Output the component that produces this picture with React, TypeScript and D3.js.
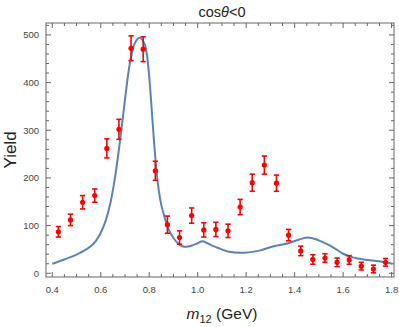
import React from "react";
import * as d3 from "d3";

const massBins = [0.425, 0.475, 0.525, 0.575, 0.625, 0.675, 0.725, 0.775, 0.825, 0.875, 0.925, 0.975, 1.025, 1.075, 1.125, 1.175, 1.225, 1.275, 1.325, 1.375, 1.425, 1.475, 1.525, 1.575, 1.625, 1.675, 1.725, 1.775];
const yields = [87, 112, 149, 163, 262, 302, 472, 470, 215, 102, 75, 121, 91, 92, 89, 139, 190, 227, 189, 80, 47, 29, 32, 23, 28, 15, 9, 23];
const errors = [11, 12, 14, 14, 20, 21, 26, 26, 20, 18, 14, 16, 15, 15, 14, 16, 18, 19, 17, 12, 10, 10, 9, 9, 9, 8, 8, 8];

const curveX = [0.4, 0.45, 0.5, 0.54, 0.56, 0.58, 0.6, 0.62, 0.64, 0.66, 0.68, 0.7, 0.72, 0.74, 0.76, 0.78, 0.79, 0.8, 0.81, 0.82, 0.83, 0.84, 0.85, 0.865, 0.88, 0.9, 0.92, 0.94, 0.96, 0.98, 1.0, 1.02, 1.04, 1.06, 1.08, 1.13, 1.19, 1.25, 1.31, 1.38, 1.42, 1.455, 1.49, 1.53, 1.56, 1.6, 1.63, 1.66, 1.7, 1.75, 1.803];
const curveY = [20, 29, 39, 50, 57, 68, 85, 110, 148, 205, 280, 365, 440, 482, 494, 482, 460, 412, 345, 275, 215, 172, 143, 115, 92, 74, 62, 56, 56, 59, 63, 67, 63, 58, 54, 45, 43, 47, 56, 64, 71, 75, 71, 62, 54, 41, 35, 31, 28, 25, 20];

const xMajor = [0.4, 0.6, 0.8, 1.0, 1.2, 1.4, 1.6, 1.8];
const yMajor = [0, 100, 200, 300, 400, 500];

const W = 399, H = 327;
const L = 46, T = 23, R = 394, B = 277;

export default function App() {
  const x = d3.scaleLinear().domain([0.374, 1.81]).range([L, R]);
  const y = d3.scaleLinear().domain([-7.8, 525]).range([B, T]);

  const xMinor = d3.range(0.4, 1.8001, 0.05).filter(v => !xMajor.some(m => Math.abs(m - v) < 1e-6));
  const yMinor = d3.range(0, 521, 20).filter(v => v % 100 !== 0);

  const line = d3.line<number>()
    .x((_, i) => x(curveX[i]))
    .y((d) => y(d))
    .curve(d3.curveCatmullRom.alpha(0.5));

  const frame = "#666";
  const lab = "#444";
  const font = "Liberation Sans, Arial, sans-serif";

  return (
    <svg width={W} height={H} style={{ position: "absolute", left: 0, top: 0, background: "#fff" }} fontFamily={font}>
      <rect x={L} y={T} width={R - L} height={B - T} fill="none" stroke={frame} strokeWidth={1} />
      {xMajor.map(v => (
        <g key={"xm" + v}>
          <line x1={x(v)} x2={x(v)} y1={B} y2={B - 5} stroke={frame} />
          <line x1={x(v)} x2={x(v)} y1={T} y2={T + 5} stroke={frame} />
          <text x={x(v)} y={293} textAnchor="middle" fontSize={9.5} fill={lab}>{v.toFixed(1)}</text>
        </g>
      ))}
      {xMinor.map(v => (
        <g key={"xn" + v}>
          <line x1={x(v)} x2={x(v)} y1={B} y2={B - 3} stroke={frame} />
          <line x1={x(v)} x2={x(v)} y1={T} y2={T + 3} stroke={frame} />
        </g>
      ))}
      {yMajor.map(v => (
        <g key={"ym" + v}>
          <line x1={L} x2={L + 5} y1={y(v)} y2={y(v)} stroke={frame} />
          <line x1={R} x2={R - 5} y1={y(v)} y2={y(v)} stroke={frame} />
          <text x={39} y={y(v) + 3.5} textAnchor="end" fontSize={9.5} fill={lab}>{v}</text>
        </g>
      ))}
      {yMinor.map(v => (
        <g key={"yn" + v}>
          <line x1={L} x2={L + 3} y1={y(v)} y2={y(v)} stroke={frame} />
          <line x1={R} x2={R - 3} y1={y(v)} y2={y(v)} stroke={frame} />
        </g>
      ))}
      <path d={line(curveY) || ""} fill="none" stroke="#5E81B5" strokeWidth={2} />
      {massBins.map((m, i) => {
        const cx = x(m);
        const y1 = y(yields[i] + errors[i]);
        const y2 = y(yields[i] - errors[i]);
        return (
          <g key={"p" + i} stroke="#ff0000" strokeWidth={1.6}>
            <line x1={cx} x2={cx} y1={y1} y2={y2} />
            <line x1={cx - 2.6} x2={cx + 2.6} y1={y1} y2={y1} />
            <line x1={cx - 2.6} x2={cx + 2.6} y1={y2} y2={y2} />
            <circle cx={cx} cy={y(yields[i])} r={2.6} fill="#ff0000" stroke="none" />
          </g>
        );
      })}
      <text x={222} y={17} textAnchor="middle" fontSize={14.5} fill="#222">
        cos<tspan fontStyle="italic">θ</tspan>&lt;0
      </text>
      <text transform={`translate(16,150) rotate(-90)`} textAnchor="middle" fontSize={17} fill="#222">Yield</text>
      <text x={222} y={319} textAnchor="middle" fontSize={15.5} fill="#222">
        <tspan fontStyle="italic">m</tspan><tspan fontSize={11} dy={4}>12</tspan><tspan dy={-4}> (GeV)</tspan>
      </text>
    </svg>
  );
}
